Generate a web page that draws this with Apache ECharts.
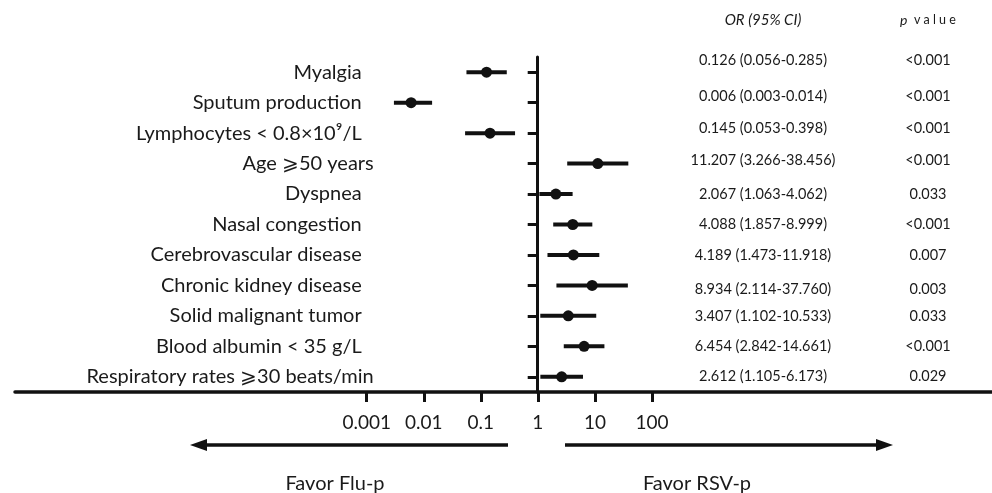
<!DOCTYPE html>
<html>
<head>
<meta charset="utf-8">
<script src="https://cdn.jsdelivr.net/npm/echarts@6/dist/echarts.min.js"></script>
<style>
  html, body { margin: 0; padding: 0; background: #fff; }
  #chart { width: 992px; height: 493px; }
</style>
</head>
<body>
<div id="chart"></div>
<script type="text/javascript">
// rows, top to bottom
const categories = [
  "Myalgia",
  "Sputum production",
  "Lymphocytes < 0.8×10⁹/L",
  "Age ⩾50 years",
  "Dyspnea",
  "Nasal congestion",
  "Cerebrovascular disease",
  "Chronic kidney disease",
  "Solid malignant tumor",
  "Blood albumin < 35 g/L",
  "Respiratory rates ⩾30 beats/min"
];
const oddsRatio = [0.126, 0.006, 0.145, 11.207, 2.067, 4.088, 4.189, 8.934, 3.407, 6.454, 2.612];
const ciLow = [0.056, 0.003, 0.053, 3.266, 1.063, 1.857, 1.473, 2.114, 1.102, 2.842, 1.105];
const ciHigh = [0.285, 0.014, 0.398, 38.456, 4.062, 8.999, 11.918, 37.760, 10.533, 14.661, 6.173];
const pValues = ["<0.001", "<0.001", "<0.001", "<0.001", "0.033", "<0.001", "0.007", "0.003", "0.033", "<0.001", "0.029"];
const tickValues = [0.001, 0.01, 0.1, 1, 10, 100];
const tickLabels = ["0.001", "0.01", "0.1", "1", "10", "100"];

const FONT = "Lato";
const INK = "#111";
const TEXT = "#1a1a1a";

// the right-hand table rows don't sit exactly on the plot rows in the original
const tableShift = [12, 6, 5, 3, 0, 0, 0, -4, 0, 0, 0];

function fmt(v) {
  return v.toFixed(3);
}

function shifted(text, i) {
  let s = tableShift[i];
  if (s > 0) return "{up" + s + "|" + text + "}";
  if (s < 0) return "{dn" + (-s) + "|" + text + "}";
  return text;
}

function shiftRich(size) {
  let rich = {};
  tableShift.forEach(s => {
    if (s > 0) rich["up" + s] = { padding: [0, 0, 2 * s, 0], fontSize: size, fontFamily: FONT, color: TEXT };
    if (s < 0) rich["dn" + (-s)] = { padding: [-2 * s, 0, 0, 0], fontSize: size, fontFamily: FONT, color: TEXT };
  });
  return rich;
}

let orText = oddsRatio.map((v, i) => fmt(v) + " (" + fmt(ciLow[i]) + "-" + fmt(ciHigh[i]) + ")");
let barData = categories.map((c, i) => [ciLow[i], ciHigh[i], i]);
let dotData = categories.map((c, i) => [oddsRatio[i], i]);

const chart = echarts.init(document.getElementById("chart"));

chart.setOption({
  animation: false,
  grid: [
    // plot area, 0.001 .. 100
    { left: 366.7, right: 340, top: 57, bottom: 101 },
    // long baseline across the page
    { left: 15, right: 0, top: 57, bottom: 101 }
  ],
  xAxis: [
    {
      type: "log",
      gridIndex: 0,
      logBase: 10,
      min: 0.001,
      max: 100,
      splitNumber: 5,
      axisLine: { show: false },
      axisTick: { show: true, length: 10, lineStyle: { color: INK, width: 3 } },
      splitLine: { show: false },
      axisLabel: {
        margin: 21,
        fontSize: 19,
        fontFamily: FONT,
        color: TEXT,
        formatter: (v) => {
          let idx = tickValues.findIndex(t => Math.abs(Math.log10(v / t)) < 0.01);
          return idx >= 0 ? tickLabels[idx] : "";
        }
      }
    },
    {
      type: "value",
      gridIndex: 1,
      min: 0,
      max: 1,
      axisLine: { show: true, lineStyle: { color: INK, width: 3.5 } },
      axisTick: { show: false },
      axisLabel: { show: false },
      splitLine: { show: false }
    }
  ],
  yAxis: [
    {
      type: "category",
      gridIndex: 0,
      data: categories,
      inverse: true,
      offset: -171,
      axisLine: { show: true, onZero: false, lineStyle: { color: INK, width: 3 } },
      axisTick: { show: true, alignWithLabel: true, length: 10, lineStyle: { color: INK, width: 3 } },
      axisLabel: {
        margin: 164,
        fontSize: 20,
        fontFamily: FONT,
        color: TEXT,
        // labels with the ⩾ sign reach a little further right in the original
        formatter: (v) => v.indexOf("⩾") >= 0 ? "{w|" + v + "}" : "{n|" + v + "}",
        rich: {
          n: { fontSize: 20, fontFamily: FONT, color: TEXT, padding: [0, 12, 0, 0] },
          w: { fontSize: 20, fontFamily: FONT, color: TEXT }
        }
      },
      splitLine: { show: false }
    },
    {
      type: "category",
      gridIndex: 0,
      data: orText,
      inverse: true,
      position: "right",
      axisLine: { show: false },
      axisTick: { show: false },
      axisLabel: {
        margin: 111, align: "center", fontSize: 14.5, fontFamily: FONT, color: TEXT,
        formatter: shifted,
        rich: shiftRich(14.5)
      }
    },
    {
      type: "category",
      gridIndex: 0,
      data: pValues,
      inverse: true,
      position: "right",
      axisLine: { show: false },
      axisTick: { show: false },
      axisLabel: {
        margin: 276, align: "center", fontSize: 14.5, fontFamily: FONT, color: TEXT,
        formatter: shifted,
        rich: shiftRich(14.5)
      }
    },
    {
      type: "value",
      gridIndex: 1,
      show: false
    }
  ],
  series: [
    {
      type: "custom",
      xAxisIndex: 0,
      yAxisIndex: 0,
      data: barData,
      encode: { x: [0, 1], y: 2 },
      renderItem: (params, api) => {
        let row = api.value(2);
        let a = api.coord([api.value(0), row]);
        let b = api.coord([api.value(1), row]);
        return {
          type: "line",
          shape: { x1: a[0], y1: a[1], x2: b[0], y2: b[1] },
          style: { stroke: INK, lineWidth: 4 }
        };
      },
      z: 2
    },
    {
      type: "scatter",
      xAxisIndex: 0,
      yAxisIndex: 0,
      data: dotData,
      symbol: "circle",
      symbolSize: 11,
      itemStyle: { color: INK, opacity: 1 },
      z: 3
    }
  ],
  graphic: [
    {
      type: "text",
      x: 763, y: 20,
      style: {
        text: "OR (95% CI)",
        align: "center", verticalAlign: "middle",
        font: "italic 15px Lato", fill: TEXT
      }
    },
    {
      type: "text",
      x: 928, y: 20,
      style: {
        text: "{i|p}  v a l u e",
        align: "center", verticalAlign: "middle",
        fontSize: 12.5, fontFamily: FONT, fill: TEXT,
        rich: { i: { fontStyle: "italic", fontSize: 14, fontFamily: FONT } }
      }
    },
    // Flu-p arrow
    { type: "line", shape: { x1: 508, y1: 445, x2: 204, y2: 445 }, style: { stroke: INK, lineWidth: 3.5 } },
    { type: "polygon", shape: { points: [[190, 445], [207, 439], [207, 451]] }, style: { fill: INK } },
    // RSV-p arrow
    { type: "line", shape: { x1: 565, y1: 445, x2: 880, y2: 445 }, style: { stroke: INK, lineWidth: 3.5 } },
    { type: "polygon", shape: { points: [[893, 445], [876, 439], [876, 451]] }, style: { fill: INK } },
    {
      type: "text",
      x: 335, y: 484,
      style: { text: "Favor Flu-p", align: "center", verticalAlign: "middle", fontSize: 20, fontFamily: FONT, fill: TEXT }
    },
    {
      type: "text",
      x: 697, y: 484,
      style: { text: "Favor RSV-p", align: "center", verticalAlign: "middle", fontSize: 20, fontFamily: FONT, fill: TEXT }
    }
  ]
});
</script>
</body>
</html>
